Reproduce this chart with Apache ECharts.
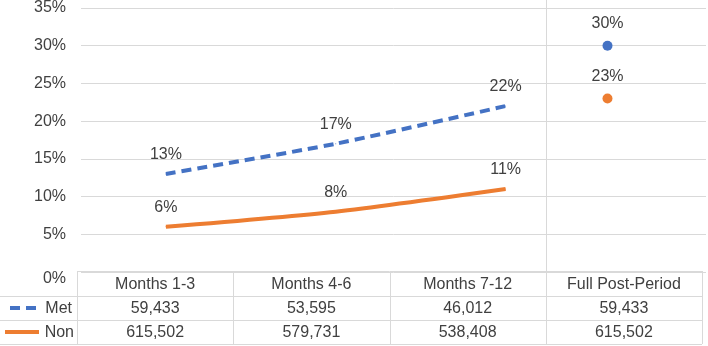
<!DOCTYPE html>
<html>
<head>
<meta charset="utf-8">
<script src="https://cdn.jsdelivr.net/npm/echarts@6/dist/echarts.min.js"></script>
<style>
  html, body { margin: 0; padding: 0; background: #fff; }
  #chart { width: 708px; height: 346px; }
</style>
</head>
<body>
<div id="chart"></div>
<script>
  // periods and values
  const categories = ['Months 1-3', 'Months 4-6', 'Months 7-12', 'Full Post-Period'];
  const periodPos = [1, 2, 3, 3.6];          // where each period sits on the hidden x axis
  const metRate = [13, 17, 22];
  const nonRate = [6, 8, 11];
  const metFull = 30;
  const nonFull = 23;
  const metCount = [59433, 53595, 46012, 59433];
  const nonCount = [615502, 579731, 538408, 615502];

  const blue = '#4472C4';
  const orange = '#ED7D31';
  const txt = '#404040';
  const lineCol = '#d9d9d9';
  const font = 'Liberation Sans, Arial, sans-serif';

  // layout of the data table under the plot
  const tblLeft = 77, tblRight = 702;
  const rowY = [271, 296, 320, 344];
  const colW = (tblRight - tblLeft) / categories.length;

  const myChart = echarts.init(document.getElementById('chart'));

  const fmt = v => v.toLocaleString('en-US');
  const graphics = [];

  // horizontal borders
  rowY.forEach((y, i) => {
    graphics.push({
      type: 'line',
      shape: { x1: i === 0 ? tblLeft : 0, y1: y + 0.5, x2: tblRight, y2: y + 0.5 },
      style: { stroke: lineCol, lineWidth: 1 }
    });
  });
  // vertical borders
  for (let i = 0; i <= categories.length; i++) {
    const x = Math.round(tblLeft + i * colW) + 0.5;
    graphics.push({
      type: 'line',
      shape: { x1: x, y1: rowY[0], x2: x, y2: rowY[3] },
      style: { stroke: lineCol, lineWidth: 1 }
    });
  }
  // separator for the full post-period column inside the plot
  const sepX = Math.round(tblLeft + 3 * colW) + 0.5;
  graphics.push({
    type: 'line',
    shape: { x1: sepX, y1: 0, x2: sepX, y2: rowY[0] },
    style: { stroke: lineCol, lineWidth: 1 }
  });

  const cellText = (x, y, text) => ({
    type: 'text',
    x: x, y: y,
    style: { text: text, fill: txt, font: '16px ' + font, align: 'center', verticalAlign: 'middle' }
  });

  categories.forEach((c, i) => {
    const cx = tblLeft + (i + 0.5) * colW;
    graphics.push(cellText(cx, (rowY[0] + rowY[1]) / 2 + 1, c));
    graphics.push(cellText(cx, (rowY[1] + rowY[2]) / 2 + 1, fmt(metCount[i])));
    graphics.push(cellText(cx, (rowY[2] + rowY[3]) / 2 + 1, fmt(nonCount[i])));
  });

  // legend keys in the row headers
  const metY = (rowY[1] + rowY[2]) / 2, nonY = (rowY[2] + rowY[3]) / 2;
  graphics.push({
    type: 'line',
    shape: { x1: 10, y1: metY, x2: 37, y2: metY },
    style: { stroke: blue, lineWidth: 4, lineDash: [10, 6] }
  });
  graphics.push({
    type: 'line',
    shape: { x1: 5, y1: nonY, x2: 39, y2: nonY },
    style: { stroke: orange, lineWidth: 4 }
  });
  graphics.push({
    type: 'text', x: 72, y: metY + 1,
    style: { text: 'Met', fill: txt, font: '16px ' + font, align: 'right', verticalAlign: 'middle' }
  });
  graphics.push({
    type: 'text', x: 74, y: nonY + 1,
    style: { text: 'Non', fill: txt, font: '16px ' + font, align: 'right', verticalAlign: 'middle' }
  });

  const labelStyle = {
    show: true,
    position: 'top',
    distance: 11,
    color: txt,
    fontSize: 16,
    fontFamily: font,
    formatter: p => p.value[1] + '%'
  };

  const options = {
    backgroundColor: '#fff',
    animation: false,
    grid: { left: 81, right: 2, top: 6, bottom: 346 - 272 },
    xAxis: {
      type: 'value',
      min: 0.5,
      max: 4.18,
      show: false
    },
    yAxis: {
      type: 'value',
      min: 0,
      max: 35,
      interval: 5,
      axisLine: { show: false },
      axisTick: { show: false },
      axisLabel: {
        color: txt,
        fontSize: 16,
        fontFamily: font,
        margin: 15,
        formatter: v => v === 0 ? '{z|0%}' : v + '%',
        rich: {
          z: { color: txt, fontSize: 16, fontFamily: font, padding: [14, 0, 0, 0] }
        }
      },
      splitLine: { lineStyle: { color: lineCol, width: 1 } }
    },
    series: [
      {
        name: 'Met',
        type: 'line',
        smooth: 0.2,
        symbol: 'circle',
        symbolSize: 1,
        itemStyle: { color: blue },
        lineStyle: { color: blue, width: 4, type: [10, 6] },
        label: labelStyle,
        data: metRate.map((v, i) => [periodPos[i], v])
      },
      {
        name: 'Non',
        type: 'line',
        smooth: 0.25,
        symbol: 'circle',
        symbolSize: 1,
        itemStyle: { color: orange },
        lineStyle: { color: orange, width: 4 },
        label: labelStyle,
        data: nonRate.map((v, i) => [periodPos[i], v])
      },
      {
        name: 'Met full',
        type: 'scatter',
        symbolSize: 10,
        itemStyle: { color: blue, opacity: 1 },
        label: Object.assign({}, labelStyle, { distance: 9 }),
        data: [[periodPos[3], metFull]]
      },
      {
        name: 'Non full',
        type: 'scatter',
        symbolSize: 10,
        itemStyle: { color: orange, opacity: 1 },
        label: Object.assign({}, labelStyle, { distance: 9 }),
        data: [[periodPos[3], nonFull]]
      }
    ],
    graphic: graphics
  };

  myChart.setOption(options);
</script>
</body>
</html>
